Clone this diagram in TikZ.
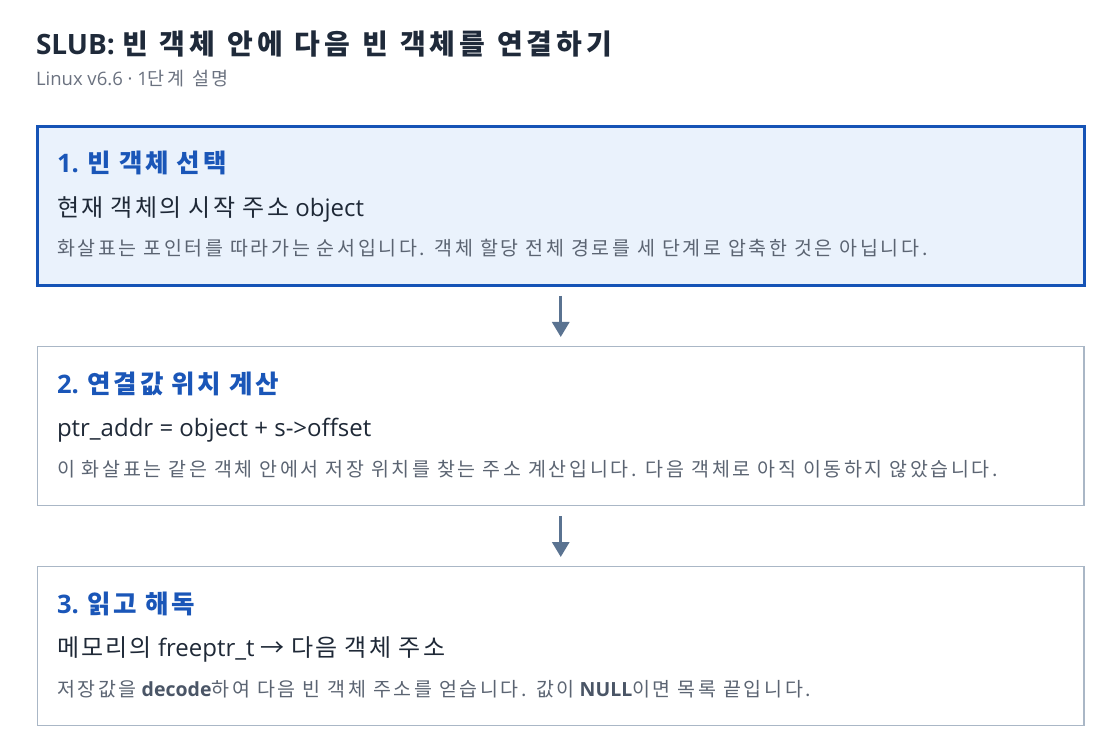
\documentclass[tikz,border=0pt]{standalone}
\usepackage{fontspec}
\setmainfont{Open Sans}
\newfontfamily\kr{Noto Sans CJK KR}
\newcommand{\krfeat}{}
\newcommand{\K}[1]{{\kr\krfeat #1}}
\usetikzlibrary{arrows.meta}
\definecolor{titlec}{HTML}{1F2A3A}
\definecolor{subc}{HTML}{6B7280}
\definecolor{headc}{HTML}{1A56B8}
\definecolor{mainc}{HTML}{1F2937}
\definecolor{descc}{HTML}{5B6472}
\definecolor{descb}{HTML}{4A5566}
\definecolor{boxhl}{HTML}{1553B6}
\definecolor{boxhlfill}{HTML}{EAF2FC}
\definecolor{boxc}{HTML}{AAB7C6}
\definecolor{arrc}{HTML}{5A7391}
\tikzset{
  txt/.style={anchor=base west, inner sep=0pt, outer sep=0pt},
  titletxt/.style={txt, text=titlec, font=\fontsize{28}{33}\selectfont\bfseries\renewcommand{\krfeat}{\addfontfeatures{LetterSpace=14}\spaceskip=12pt\relax}},
  subtxt/.style={txt, text=subc, font=\fontsize{18.5}{22}\selectfont\renewcommand{\krfeat}{\addfontfeatures{LetterSpace=11}\spaceskip=8.5pt\relax}},
  headtxt/.style={txt, text=headc, font=\fontsize{25.5}{30}\selectfont\bfseries\renewcommand{\krfeat}{\addfontfeatures{LetterSpace=11}\spaceskip=8pt\relax}},
  maintxt/.style={txt, text=mainc, font=\fontsize{24}{28}\selectfont\renewcommand{\krfeat}{\addfontfeatures{LetterSpace=9}}},
  desctxt/.style={txt, text=descc, font=\fontsize{19.5}{23}\selectfont\renewcommand{\krfeat}{\addfontfeatures{LetterSpace=13.5}}},
  stepbox/.style={rectangle, anchor=north west, inner sep=0pt, outer sep=0pt,
    minimum width=1046.5pt, minimum height=159pt},
  hlbox/.style={stepbox, draw=boxhl, line width=3pt, fill=boxhlfill},
  plainbox/.style={stepbox, draw=boxc, line width=1.2pt, fill=white},
  flowarrow/.style={draw=arrc, line width=3pt, -{Triangle[width=17pt,length=15pt]}}
}
\begin{document}
\begin{tikzpicture}[x=1pt,y=-1pt]
\useasboundingbox[fill=white] (0,0) rectangle (1120,754);
% title
\node[titletxt] (title) at (36,54.5) {SLUB: \K{빈 객체 안에 다음 빈 객체를 연결하기}};
\node[subtxt] (subtitle) at (36,86) {Linux v6.6 · 1\K{단계 설명}};
% boxes
\node[hlbox] (b1) at (37.5,126.5) {};
\node[plainbox] (b2) at (37.5,346.5) {};
\node[plainbox] (b3) at (37.5,566.5) {};
% box 1 text
\node[headtxt] (h1) at (57,173) {1. \K{빈 객체 선택}};
\node[maintxt] (m1) at (57,216.5) {\K{현재 객체의 시작 주소} object};
\node[desctxt] (d1) at (57,256) {\K{화살표는 포인터를 따라가는 순서입니다. 객체 할당 전체 경로를 세 단계로 압축한 것은 아닙니다.}};
% box 2 text
\node[headtxt] (h2) at (57,393) {2. \K{연결값 위치 계산}};
\node[maintxt] (m2) at (57,436.5) {ptr\_addr = object + s->offset};
\node[desctxt] (d2) at (57,476) {\K{이 화살표는 같은 객체 안에서 저장 위치를 찾는 주소 계산입니다. 다음 객체로 아직 이동하지 않았습니다.}};
% box 3 text
\node[headtxt] (h3) at (57,613) {3. \K{읽고 해독}};
\node[maintxt] (m3) at (57,656.5) {\K{메모리의} freeptr\_t {\kr →} \K{다음 객체 주소}};
\node[desctxt] (d3) at (57,696) {\K{저장값을} {\color{descb}\bfseries decode}\K{하여 다음 빈 객체 주소를 얻습니다. 값이} {\color{descb}\bfseries NULL}\K{이면 목록 끝입니다.}};
% arrows
\draw[flowarrow] ([yshift=-10.5pt]b1.south) -- ([yshift=9.5pt]b2.north);
\draw[flowarrow] ([yshift=-10.5pt]b2.south) -- ([yshift=9.5pt]b3.north);
\end{tikzpicture}
\end{document}
